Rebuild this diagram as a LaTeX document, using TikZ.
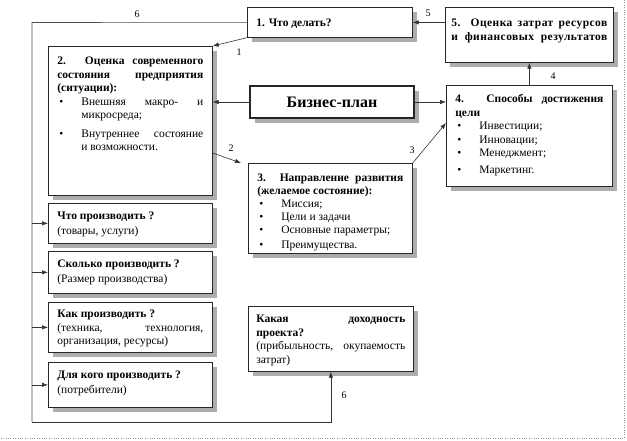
\documentclass[tikz,border=0pt]{standalone}
\usepackage{fontspec}
\setmainfont{Liberation Serif}
\usetikzlibrary{shadows,arrows.meta,calc}
\newcommand\bt[5]{\parbox[c][#2pt][t]{#1pt}{\fontsize{11.5}{#4}\selectfont\parindent=0pt\vspace*{#3pt}#5\par}}
\newcommand\bul[1]{\par\hangindent=24pt\hangafter=1\noindent\makebox[24pt][l]{\hspace{2pt}•}#1\par}
\begin{document}
\begin{tikzpicture}[x=1pt,y=-1pt,
  box/.style={draw=black!85,fill=white,line width=0.7pt,inner xsep=9pt,inner ysep=0pt,anchor=north west,
    drop shadow={shadow xshift=5pt,shadow yshift=-5pt,fill=black!32,opacity=1}},
  arr/.style={draw=black!80,line width=0.6pt,-{Latex[length=6pt,width=4.5pt]}},
  plain/.style={draw=black!70,line width=0.6pt},
  lbl/.style={font=\fontsize{10}{11}\selectfont,inner sep=1pt}]
\useasboundingbox (0,0) rectangle (627,441);
\draw[black!40,dotted] (624,0) -- (624,438) -- (0,438);

\node[box] (b1) at (247,7) {\parbox[c][30pt][c]{147pt}{\fontsize{11.5}{13.5}\selectfont\vspace*{3pt}\bfseries 1. Что делать?}};
\node[box,inner xsep=6pt] (b5) at (445,7) {\bt{156}{55}{12}{13.5}{\addfontfeature{LetterSpace=4}\bfseries 5. Оценка затрат ресурсов\linebreak и финансовых результатов\parfillskip=0pt}};
\node[box] (b2) at (48,46) {\bt{146}{149}{11}{13.5}{{\bfseries 2. Оценка современного\linebreak состояния предприятия\linebreak (ситуации):}
\bul{Внешняя макро- и\linebreak микросреда;}\vspace{5pt}
\bul{Внутреннее состояние\linebreak и возможности.}}};
\node[box,line width=2pt,inner xsep=0pt] (bp) at (249,85) {\parbox[c][32pt][c]{164pt}{\centering\fontsize{16}{18}\selectfont\bfseries Бизнес-план}};
\node[box] (b4) at (446,85) {\bt{148}{101}{9}{13.5}{{\bfseries 4. Способы достижения\linebreak цели}
\bul{Инвестиции;}
\bul{Инновации;}
\bul{Менеджмент;}\vspace{3pt}
\bul{Маркетинг.}}};
\node[box] (b3) at (248,163) {\bt{146}{90}{11}{13}{{\bfseries 3. Направление развития\linebreak (желаемое состояние):}
\bul{Миссия;}
\bul{Цели и задачи}
\bul{Основные параметры;}\vspace{2pt}
\bul{Преимущества.}}};
\node[box] (s1) at (48,203) {\bt{146}{40}{9}{13.5}{{\bfseries Что производить ?}\par\vspace{1.5pt}(товары, услуги)}};
\node[box] (s2) at (48,251) {\bt{146}{42}{9}{13.5}{{\bfseries Сколько производить ?}\par\vspace{1.5pt}(Размер производства)}};
\node[box] (s3) at (48,302) {\bt{146}{50}{8}{13.5}{{\bfseries Как производить ?}\par(техника, технология,\linebreak организация, ресурсы)}};
\node[box] (s4) at (48,362) {\bt{146}{45}{9}{13.5}{{\bfseries Для кого производить ?}\par\vspace{1.5pt}(потребители)}};
\node[box,inner xsep=8pt] (k) at (248,306) {\bt{149}{65}{9}{13.5}{{\bfseries Какая доходность\linebreak проекта?}\par(прибыльность, окупаемость\linebreak затрат)}};

\coordinate (ctl) at (32,22.5);
\coordinate (cbl) at (32,422);
\draw[plain] (b1.west) -- (ctl) -- (cbl);
\draw[arr] (cbl) -| (k.south);
\foreach \s in {s1,s2,s3,s4} \draw[arr] (\s.west -| ctl) -- (\s.west);

\draw[arr] (b1.south west) -- (b2.north east);
\draw[arr] (bp.west) -- (bp.west -| b2.east);
\draw[arr] ($(b2.north east)+(0,107)$) -- ($(b3.north west)+(-7,0)$);
\draw[arr] (b3.north east) -- ($(b4.north west)+(0,38)$);
\draw[arr] (bp.east) -- (bp.east -| b4.west);
\draw[arr] (b4.north) -- (b5.south);
\draw[arr] (b1.east -| b5.west) -- (b1.east);

\node[lbl] (l6a) at (137,14) {6};
\node[lbl] (l1) at (239,52) {1};
\node[lbl] (l2) at (231,148) {2};
\node[lbl] (l3) at (412,150) {3};
\node[lbl] (l4) at (553,76) {4};
\node[lbl] (l5) at (428,13) {5};
\node[lbl] (l6b) at (344,395) {6};
\end{tikzpicture}
\end{document}
